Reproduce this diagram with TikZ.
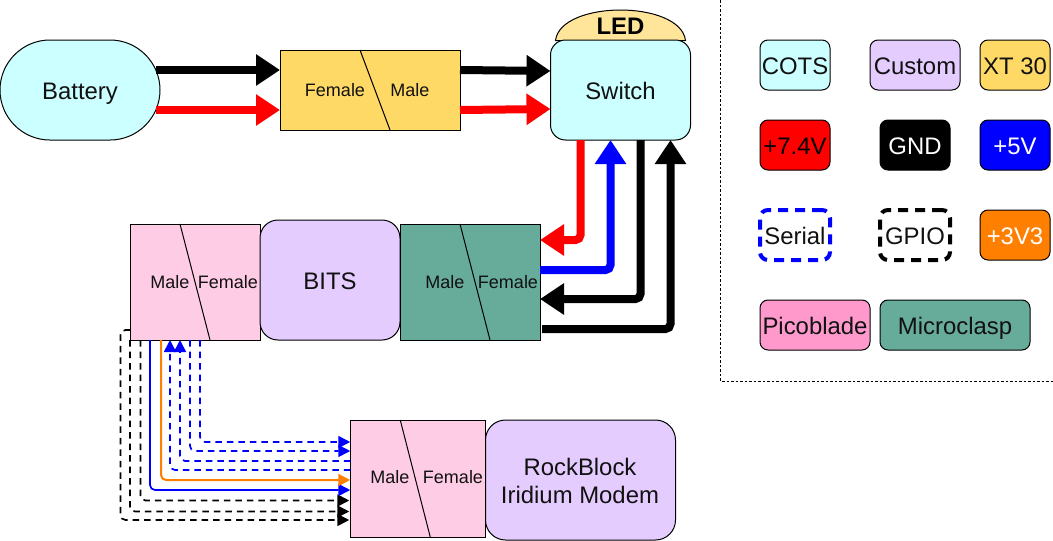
\documentclass[tikz,border=0pt]{standalone}
\usepackage{fontspec}
\setmainfont{Liberation Sans}
\usetikzlibrary{arrows.meta,calc}
\definecolor{cCots}{HTML}{CCFFFF}
\definecolor{cCustom}{HTML}{E5CCFF}
\definecolor{cXt}{HTML}{FFD966}
\definecolor{cLed}{HTML}{FFE599}
\definecolor{cPicoL}{HTML}{FFCCE6}
\definecolor{cPico}{HTML}{FF99CC}
\definecolor{cMicro}{HTML}{67AB9B}
\definecolor{cOrange}{HTML}{FF8000}
\definecolor{cInk}{HTML}{111111}
\tikzset{
  big/.style={font=\fontsize{23.9}{28}\selectfont,text height=18.4pt,text depth=0pt},
  small/.style={font=\fontsize{18}{21}\selectfont,text height=12.9pt,text depth=0pt},
  base/.style={draw=black,line width=1pt,inner sep=0pt,outer sep=0pt,text=cInk},
  size/.style 2 args={minimum width=#1pt,minimum height=#2pt},
  round/.style={base,rounded corners=#1pt,big},
  conn/.style={base,small},
  lab/.style={inner sep=0pt,outer sep=0pt,text=cInk,small},
  slash/.style={draw=black,line width=1pt},
  thick arrow/.style={line width=8pt,rounded corners=5pt},
  fat tip/.style={-{Triangle[length=24pt,width=30pt]}},
  thin arrow/.style={line width=1.7pt,rounded corners=5pt},
  thin tip/.style={-{Triangle[length=12pt,width=12pt]}},
  dashline/.style={dash pattern=on 6.5pt off 5pt},
  legend/.style={round=8,size={70}{50},fill=#1},
  legdash/.style={draw=#1,line width=4pt,rounded corners=8pt,inner sep=0pt,outer sep=0pt,fill=white,text=cInk,big,size={70}{50},dash pattern=on 10pt off 7pt},
}
\begin{document}
\begin{tikzpicture}[x=1pt,y=-1pt]
\useasboundingbox (0,0) rectangle (1053,541);
% legend frame
\coordinate (frameTop) at (720.5,0);
\coordinate (frameCorner) at (720.5,381);
\coordinate (frameEnd) at (1053,381);
\draw[line width=0.8pt,dash pattern=on 2.5pt off 2pt] (frameTop) -- (frameCorner) -- (frameEnd);
% main shapes
\node[round=50,size={160}{100},fill=cCots] (bat) at (80,90) {Battery};
\node[conn,size={180}{80},fill=cXt] (xt) at (370,90) {};
\coordinate (xtA) at ($(xt.north west)+(80,0)$);
\coordinate (xtB) at ($(xt.south west)+(110,0)$);
\draw[slash] (xtA) -- (xtB);
\node[lab] (xtF) at (335,90) {Female};
\node[lab] (xtM) at (410,90) {Male};
\draw[draw=black,line width=1pt,fill=cLed] (555.5,40.5) .. controls (558,20) and (590,10) .. (620.5,10) .. controls (651,10) and (683,20) .. (685.5,40.5) -- cycle;
\node[inner sep=0pt,outer sep=0pt,big] (led) at (620.5,25.5) {\textbf{LED}};
\node[round=15,size={140}{100},fill=cCots] (sw) at (620.5,90) {Switch};
\node[conn,size={130}{116},fill=cPicoL] (pico) at (195,282) {};
\coordinate (picoA) at ($(pico.north west)+(50,0)$);
\coordinate (picoB) at ($(pico.south west)+(80,0)$);
\draw[slash] (picoA) -- (picoB);
\node[lab] (picoM) at (170,282) {Male};
\node[lab] (picoF) at (228,282) {Female};
\node[round=18,size={140}{120},fill=cCustom] (bits) at (330,280) {BITS};
\node[conn,size={140}{116},fill=cMicro] (micro) at (470,282) {};
\coordinate (microA) at ($(micro.north west)+(60,0)$);
\coordinate (microB) at ($(micro.south west)+(90,0)$);
\draw[slash] (microA) -- (microB);
\node[lab] (microM) at (445,282) {Male};
\node[lab] (microF) at (508,282) {Female};
\node[conn,size={135.5}{117},fill=cPicoL] (mpico) at (418,478.5) {};
\coordinate (mpicoA) at ($(mpico.north west)+(50,0)$);
\coordinate (mpicoB) at ($(mpico.south west)+(80,0)$);
\draw[slash] (mpicoA) -- (mpicoB);
\node[lab] (mpicoM) at (390,477.5) {Male};
\node[lab] (mpicoF) at (453,477.5) {Female};
\node[draw=black,line width=1pt,inner sep=0pt,outer sep=0pt,rounded corners=20pt,size={190}{120},fill=cCustom] (modem) at (580.5,480) {};
\node[inner sep=0pt,outer sep=0pt,text=cInk,font=\fontsize{23.9}{28}\selectfont,align=center] (modemT) at (580,481) {RockBlock\\Iridium Modem};
% power arrows
\draw[thick arrow,fat tip] ($(bat.east)+(-4,-20)$) -- ($(xt.west)+(0,-20)$);
\draw[thick arrow,fat tip,red] ($(bat.east)+(-4,20)$) -- ($(xt.west)+(0,20)$);
\draw[thick arrow,fat tip] ($(xt.east)+(0,-20)$) -- ($(sw.west)+(0,-19)$);
\draw[thick arrow,fat tip,red] ($(xt.east)+(0,20)$) -- ($(sw.west)+(0,19)$);
\draw[thick arrow,fat tip,red] ($(sw.south west)+(30,0)$) |- ($(micro.north east)+(0,16)$);
\draw[thick arrow,fat tip,blue] ($(micro.north east)+(0,46)$) -| ($(sw.south west)+(60,0)$);
\draw[thick arrow,fat tip] ($(sw.south west)+(90,0)$) |- ($(micro.north east)+(0,75)$);
\draw[thick arrow,fat tip] ($(micro.north east)+(2,105)$) -| ($(sw.south west)+(120,0)$);
% signal bundle
\draw[thin arrow,thin tip,dashline] ($(pico.south west)+(0,-10)$) -- ++(-9.5,0) |- ($(mpico.north west)+(-1,100)$);
\draw[thin arrow,thin tip,dashline] ($(pico.south west)+(0,0)$) |- ($(mpico.north west)+(-1,91.5)$);
\draw[thin arrow,thin tip,dashline] ($(pico.south west)+(10.5,0)$) |- ($(mpico.north west)+(-1,80.5)$);
\draw[thin arrow,thin tip,blue] ($(pico.south west)+(20,0)$) |- ($(mpico.north west)+(0,70)$);
\draw[thin arrow,thin tip,cOrange,line width=2pt] ($(pico.south west)+(31,0)$) |- ($(mpico.north west)+(0,60)$);
\draw[thin arrow,thin tip,blue,dashline] ($(mpico.north west)+(0,50)$) -| ($(pico.south west)+(40,0)$);
\draw[thin arrow,thin tip,blue,dashline] ($(mpico.north west)+(0,41)$) -| ($(pico.south west)+(50,0)$);
\draw[thin arrow,thin tip,blue,dashline] ($(pico.south west)+(60,0)$) |- ($(mpico.north west)+(0,31)$);
\draw[thin arrow,thin tip,blue,dashline] ($(pico.south west)+(70,0)$) |- ($(mpico.north west)+(0,22)$);
% legend
\node[legend=cCots] (lCots) at (795,65) {COTS};
\node[round=8,size={90}{50},fill=cCustom] (lCustom) at (915,65) {Custom};
\node[legend=cXt] (lXt) at (1015,65) {XT 30};
\node[legend=red,text=black] (lPos) at (795,145) {+7.4V};
\node[legend=black,text=white] (lGnd) at (915,145) {GND};
\node[legend=blue,text=white] (lFive) at (1015,145) {+5V};
\node[legdash=blue] (lSerial) at (795,235) {Serial};
\node[legdash=black] (lGpio) at (915,235) {GPIO};
\node[legend=cOrange,text=white] (lThree) at (1015,235) {+3V3};
\node[round=8,size={110}{50},fill=cPico] (lPico) at (815,325) {Picoblade};
\node[round=8,size={150}{50},fill=cMicro] (lMicro) at (955,325) {Microclasp};
\end{tikzpicture}
\end{document}
